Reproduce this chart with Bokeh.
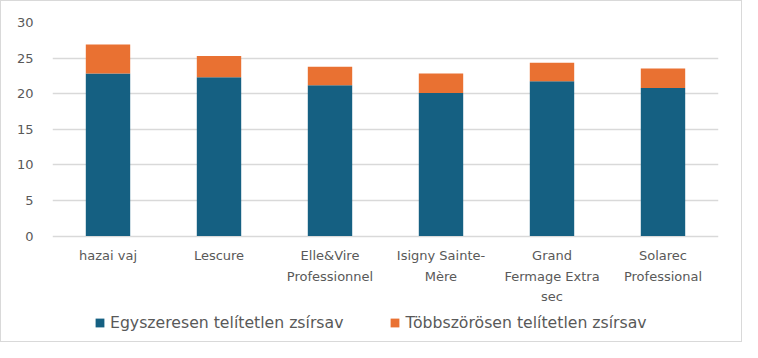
from bokeh.plotting import figure
from bokeh.models import ColumnDataSource, Legend, FixedTicker, Range1d
from bokeh.core.properties import value
from bokeh.embed import file_html
from bokeh.resources import INLINE

categories = ["hazai vaj", "Lescure", "Elle&Vire Professionnel", "Isigny Sainte-Mère",
              "Grand Fermage Extra sec", "Solarec Professional"]
category_labels = ["hazai vaj", "Lescure", "Elle&Vire\nProfessionnel", "Isigny Sainte-\nMère",
                   "Grand\nFermage Extra\nsec", "Solarec\nProfessional"]
series_names = ["Egyszeresen telítetlen zsírsav", "Többszörösen telítetlen zsírsav"]
mono = [22.85, 22.3, 21.2, 20.1, 21.75, 20.8]
poly = [4.05, 3.0, 2.6, 2.75, 2.6, 2.75]
y_ticks = [0, 5, 10, 15, 20, 25, 30]
colors = ["#156082", "#E97132"]

FONT = "DejaVu Sans"
TXT = "#595959"
GRID = "#d9d9d9"
Y_MIN = -15.08      # room below the axis for category labels and legend
LABEL_Y = -1.65     # top of category labels (data units)

src = ColumnDataSource(dict(cat=categories, mono=mono, poly=poly))
lab_src = ColumnDataSource(dict(cat=categories, label=category_labels,
                                y=[LABEL_Y] * len(categories)))

p = figure(x_range=categories, y_range=Range1d(Y_MIN, 30), width=742, height=342,
           output_backend="svg", toolbar_location=None,
           min_border_left=51, min_border_right=25, min_border_top=21, min_border_bottom=0)
p.styles = {"border": "1.5px solid #d9d9d9", "box-sizing": "border-box"}

rs = p.vbar_stack(["mono", "poly"], x="cat", width=0.4, source=src, color=colors,
                  line_color=None)

p.text(x="cat", y="y", text="label", source=lab_src, text_align="center",
       text_baseline="top", text_font=value(FONT), text_font_size="13px",
       text_color=TXT, text_line_height=1.38)

p.outline_line_color = None
p.xgrid.grid_line_color = None
p.xaxis.visible = False
p.ygrid.grid_line_color = GRID
p.ygrid.grid_line_width = 1.5
p.yaxis.ticker = FixedTicker(ticks=y_ticks)
p.yaxis.axis_line_color = None
p.yaxis.major_tick_line_color = None
p.yaxis.minor_tick_line_color = None
p.yaxis.major_label_standoff = 13
p.yaxis.major_label_text_font = FONT
p.yaxis.major_label_text_font_size = "13px"
p.yaxis.major_label_text_color = TXT

legend = Legend(items=[(series_names[0], [rs[0]]), (series_names[1], [rs[1]])],
                orientation="horizontal", location=(42, 11),
                label_text_font=FONT, label_text_font_size="15.7px", label_text_color=TXT,
                glyph_width=11, glyph_height=11, label_standoff=5, spacing=46,
                border_line_color=None, background_fill_alpha=0, padding=0, margin=0)
p.add_layout(legend)

open("out.html", "w").write(file_html(p, INLINE))
